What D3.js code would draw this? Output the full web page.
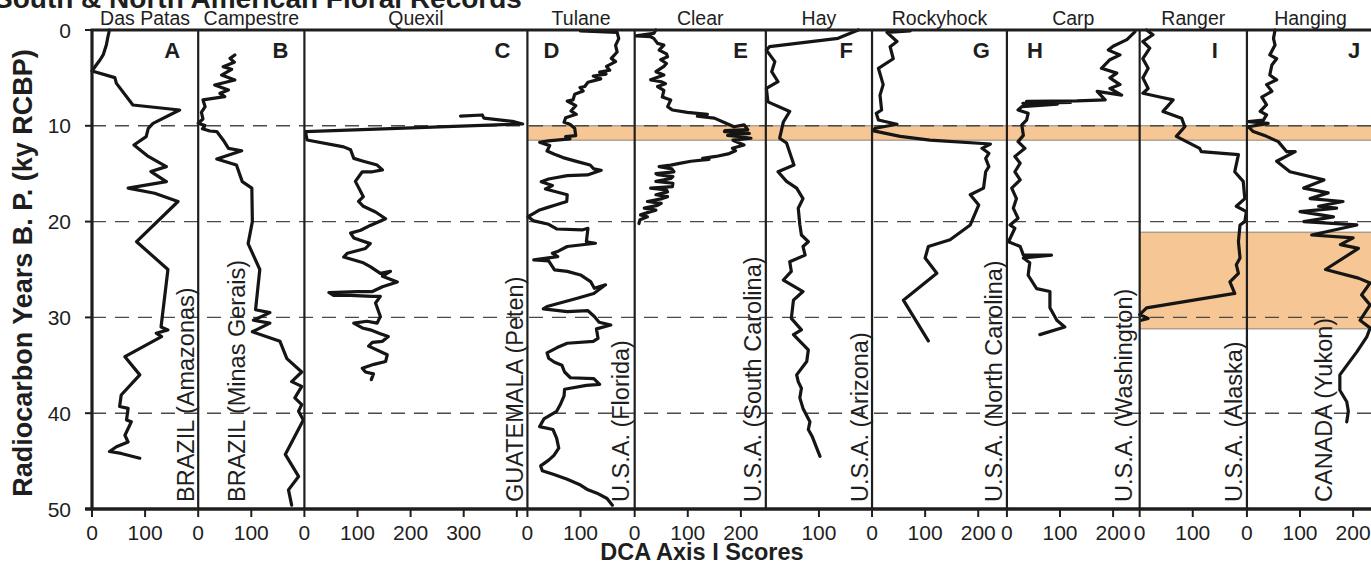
<!DOCTYPE html>
<html>
<head>
<meta charset="utf-8">
<script src="https://cdn.jsdelivr.net/npm/d3@7"></script>
<style>
  body { margin: 0; background: #fff; }
  text { font-family: "Liberation Sans", Arial, Helvetica, sans-serif; fill: #1e1e1e; }
</style>
</head>
<body>
<div id="chart"></div>
<script>
// ---- data ----
const siteNames = ["Das Patas", "Campestre", "Quexil", "Tulane", "Clear", "Hay", "Rockyhock", "Carp", "Ranger", "Hanging"];
const panelLetters = ["A", "B", "C", "D", "E", "F", "G", "H", "I", "J"];
const countryLabels = ["BRAZIL (Amazonas)", "BRAZIL (Minas Gerais)", "GUATEMALA (Peten)", "U.S.A. (Florida)",
  "U.S.A. (South Carolina)", "U.S.A. (Arizona)", "U.S.A. (North Carolina)", "U.S.A. (Washington)",
  "U.S.A. (Alaska)", "CANADA (Yukon)"];
// width of each panel in DCA score units
const panelSpan = [200, 200, 420, 202, 247, 200, 254, 250, 202, 240];
const reversedAxis = [false, false, false, false, false, true, false, false, false, false];
const tickValues = [[0, 100], [0, 100], [0, 100, 200, 300], [0, 100], [0, 100, 200], [0, 100], [100, 200], [0, 100, 200], [0, 100], [0, 100, 200]];
const unlabeledTicks = [[], [], [400], [], [], [], [], [], [], []];
const yTicks = [0, 10, 20, 30, 40, 50];
const dashedLevels = [10, 20, 30, 40];
// shaded intervals (ky), starting at panel index
const bandFrom = [10, 21.1];
const bandTo = [11.5, 31.2];
const bandFirstPanel = [3, 8];

// series: [ky RCBP, DCA score]
const dasPatas = [[0,33],[0.7,30],[1.57,27],[2.6,21],[3.13,15],[3.65,8],[4.28,0],[4.97,43],[5.57,46],[7.83,77],[8.35,165],[9.74,115],[10.26,106],[11.13,102],[12.0,79],[13.2,106],[14.26,140],[14.78,111],[15.83,140],[16.5,68],[17.04,118],[17.9,162],[22.1,84],[25.0,143],[31.0,130],[31.3,143],[31.65,121],[32.0,131],[34.1,62],[36.0,90],[38.1,55],[39.3,52],[39.5,68],[40.7,65],[40.9,74],[42.3,62],[43.0,68],[43.5,46],[44.0,33],[44.2,55],[44.7,90]];
const campestre = [[2.61,69],[2.96,60],[3.37,68],[3.83,47],[4.1,63],[4.7,44],[5.22,69],[5.74,31],[6.26,57],[6.61,41],[6.96,50],[7.3,9],[8.0,13],[8.59,6],[9.29,9],[9.74,0],[9.98,13],[10.3,8],[10.54,22],[10.6,35],[11.48,47],[12.35,57],[12.6,82],[13.46,35],[14.09,72],[15.83,83],[16.5,101],[20.0,102],[22.3,94],[25.0,116],[29.2,108],[29.5,135],[30.3,104],[30.6,135],[31.5,102],[32.5,154],[34.3,167],[35.7,195],[36.7,176],[37.2,195],[38.4,182],[39.1,195],[39.8,189],[40.7,198],[44.3,164],[46.6,189],[48.0,170],[49.6,176]];
const quexil = [[8.98,294],[8.87,335],[9.2,338],[9.57,395],[9.81,411],[10.6,2],[11.48,5],[12.2,74],[12.5,87],[13.4,93],[13.7,111],[14.1,137],[14.6,147],[14.8,128],[14.8,109],[15.8,96],[17.4,111],[17.9,102],[18.4,111],[19.0,134],[19.7,153],[20.4,124],[20.9,106],[21.2,87],[21.7,93],[22.3,124],[22.8,115],[23.3,81],[23.7,74],[24.3,111],[24.7,124],[25.4,143],[25.2,162],[25.7,147],[26.3,175],[26.8,147],[27.3,128],[27.3,99],[27.4,46],[27.7,55],[27.7,87],[27.8,128],[27.8,143],[28.5,134],[29.9,143],[30.6,137],[30.4,118],[30.6,93],[31.1,109],[31.3,124],[31.7,143],[32.0,158],[32.5,147],[32.6,128],[33.0,121],[33.9,156],[34.6,153],[34.9,131],[35.3,109],[35.7,115],[35.9,130],[36.5,126]];
const tulane = [[0.1,100],[0.24,169],[0.9,172],[1.6,166],[2.3,169],[2.96,158],[3.3,166],[3.8,149],[4.2,155],[4.4,136],[4.6,148],[4.8,124],[5.1,138],[5.46,114],[5.9,108],[6.0,99],[6.37,105],[6.71,89],[7.3,86],[7.41,75],[7.9,91],[8.45,82],[8.8,92],[9.15,72],[9.63,69],[9.84,80],[10.26,89],[11.03,91],[11.13,72],[11.37,80],[11.58,40],[11.72,23],[12.07,42],[12.63,37],[12.97,51],[13.32,67],[13.74,94],[14.09,118],[14.5,125],[14.64,139],[15.13,113],[15.2,75],[15.55,40],[15.83,26],[16.24,47],[16.6,34],[17.2,75],[17.9,74],[18.26,53],[18.54,37],[18.78,23],[19.13,12],[19.48,1],[19.93,12],[20.28,40],[20.77,55],[20.87,103],[20.7,114],[22.1,111],[22.26,128],[22.6,75],[23.06,59],[23.3,47],[23.65,57],[24.0,12],[24.1,40],[25.04,51],[25.2,75],[25.57,100],[26.26,119],[26.96,126],[26.6,147],[27.5,125],[28.0,94],[28.87,37],[29.11,30],[29.4,75],[29.3,114],[29.9,126],[30.5,135],[30.8,157],[31.2,130],[32.2,133],[32.5,124],[32.7,75],[33.15,56],[33.7,37],[34.26,40],[34.68,51],[35.0,65],[35.7,70],[36.3,81],[36.4,125],[37.0,136],[37.1,111],[37.5,70],[38.2,69],[39.1,62],[39.8,55],[40.6,31],[41.4,23],[41.7,48],[42.6,55],[43.65,59],[44.4,50],[44.9,40],[45.5,25],[46.0,28],[46.4,50],[46.9,75],[47.5,100],[48.0,114],[48.35,131],[48.9,150],[49.6,160]];
const clear = [[0,40],[0.35,36],[0.62,2],[0.7,30],[0.87,36],[1.4,43],[1.57,55],[2.1,46],[2.5,60],[2.8,62],[3.1,49],[3.5,60],[3.8,55],[4.35,40],[4.7,55],[5.2,30],[5.4,50],[5.6,58],[5.9,43],[6.3,55],[7.0,52],[7.3,68],[8.0,62],[8.35,71],[8.6,99],[8.8,137],[9.0,118],[9.2,150],[9.74,172],[10.1,187],[9.9,206],[10.4,213],[10.5,170],[10.6,169],[10.7,205],[10.8,216],[11.0,175],[11.1,194],[11.3,219],[11.5,185],[11.8,197],[12.0,206],[12.35,184],[12.6,190],[12.9,178],[13.2,153],[13.4,128],[13.5,140],[13.7,106],[13.9,87],[14.1,68],[14.26,46],[14.5,70],[14.8,74],[15.0,40],[15.1,43],[15.3,72],[15.5,68],[15.8,40],[16.0,72],[16.35,71],[16.5,30],[16.7,60],[16.9,62],[17.2,40],[17.4,62],[17.6,52],[17.9,24],[18.1,50],[18.3,43],[18.6,18],[18.8,40],[18.96,30],[19.3,11],[19.5,24],[19.8,10],[20.2,8]];
const hay = [[0,26],[0.87,64],[1.74,193],[2.1,199],[3.3,183],[4.35,189],[5.4,177],[6.1,199],[7.5,196],[8.5,155],[9.6,167],[11.3,174],[11.8,161],[14.1,147],[14.8,177],[15.8,161],[16.5,142],[17.6,130],[18.6,139],[20.3,136],[21.4,133],[22.1,120],[22.6,130],[23.5,126],[24.2,155],[25.2,152],[26.1,167],[27.3,130],[28.2,148],[30.1,152],[31.3,133],[31.8,148],[33.4,120],[34.6,123],[36.0,142],[36.7,139],[37.4,133],[38.4,136],[39.5,130],[40.9,117],[41.7,120],[42.4,113],[44.5,98]];
const rockyhock = [[0.1,72],[0.25,28],[1.2,47],[1.74,34],[3.0,40],[4.0,12],[5.7,21],[6.8,15],[8.35,18],[8.7,8],[9.4,12],[9.84,47],[10.26,6],[10.5,1],[11.1,53],[11.5,109],[11.9,223],[12.35,207],[12.87,220],[13.4,214],[14.26,220],[14.8,214],[16.5,210],[17.2,185],[18.26,201],[20.35,185],[21.9,147],[22.6,106],[23.8,100],[25.4,122],[28.2,59],[32.45,106]];
const carp = [[0.2,241],[1.0,226],[1.7,200],[2.1,191],[2.6,213],[3.1,194],[4.0,178],[4.5,207],[5.0,194],[5.7,213],[6.1,194],[6.8,216],[6.4,170],[7.3,185],[7.4,132],[7.45,37],[7.55,120],[7.65,30],[7.75,95],[8.0,28],[8.35,21],[8.7,40],[9.4,37],[9.9,28],[11.0,31],[11.65,21],[12.35,34],[13.2,15],[13.9,25],[14.8,15],[15.65,25],[16.5,9],[17.6,18],[18.6,12],[19.65,21],[20.35,6],[20.7,15],[22.1,3],[22.6,25],[23.5,31],[23.5,84],[23.8,31],[24.3,43],[25.6,40],[27.0,56],[27.3,81],[29.0,81],[30.3,94],[31.0,109],[31.8,62]];
const ranger = [[0,13],[0.5,25],[1.2,6],[1.9,19],[3.0,6],[4.0,16],[5.0,6],[6.1,16],[6.6,6],[7.0,38],[7.3,63],[8.5,44],[9.2,79],[10.1,85],[11.1,69],[12.35,113],[12.7,116],[13.0,186],[14.8,179],[15.8,195],[17.6,198],[18.4,182],[18.96,201],[20.0,198],[20.35,189],[22.1,186],[23.8,189],[24.5,182],[25.4,186],[26.3,170],[27.5,179],[29.0,13],[29.7,0],[30.1,16],[30.3,3]];
const hanging = [[0,53],[0.87,50],[1.57,53],[2.6,43],[3.0,56],[3.65,47],[4.7,43],[5.2,56],[5.7,37],[6.4,47],[7.0,28],[7.8,37],[8.5,25],[8.87,37],[9.4,31],[9.56,3],[9.74,40],[10.1,3],[10.6,12],[11.1,37],[11.65,59],[12.7,75],[12.7,91],[13.7,56],[14.8,81],[15.65,145],[16.5,107],[17.0,153],[17.6,119],[17.9,181],[18.4,135],[18.6,169],[18.96,100],[19.5,163],[20.0,107],[20.35,207],[21.4,122],[21.7,200],[22.4,176],[22.8,210],[25.0,148],[25.9,210],[26.4,232],[27.65,216],[28.7,232],[30.3,213],[31.1,232],[32.0,226],[33.6,207],[36.0,175],[37.6,175],[38.8,188],[39.8,191],[40.9,188]];
const allSeries = [dasPatas, campestre, quexil, tulane, clear, hay, rockyhock, carp, ranger, hanging];

// ---- layout ----
const W = 1371, H = 562;
const plotTop = 30, plotBottom = 509, plotLeft = 92;
const pxPerUnit = 0.531;
// letter placement: [anchor, inset from that side]
const letterPlace = [["end",18],["end",16],["end",17],["start",16],["end",18],["end",19],["end",17],["start",20],["end",29],["end",14]];
// country label baseline: [side, offset]
const labelPlace = [["r",-4.5],["l",47],["r",-4],["r",-6],["r",-5],["r",-4],["r",-5],["r",-8],["r",-5],["l",85]];

const svg = d3.select("#chart").append("svg")
    .attr("width", W)
    .attr("height", H);

const y = d3.scaleLinear().domain([0, 50]).range([plotTop, plotBottom]);

// build panels
let cursor = plotLeft;
const panels = siteNames.map((name, i) => {
    const w = panelSpan[i] * pxPerUnit;
    const p = {
        left: cursor,
        right: cursor + w,
        x: d3.scaleLinear().domain([0, panelSpan[i]])
            .range(reversedAxis[i] ? [cursor + w, cursor] : [cursor, cursor + w])
    };
    cursor += w;
    return p;
});

// shaded bands
bandFrom.forEach((b, i) => {
    svg.append("rect")
        .attr("x", panels[bandFirstPanel[i]].left)
        .attr("y", y(b))
        .attr("width", W - panels[bandFirstPanel[i]].left + 5)
        .attr("height", y(bandTo[i]) - y(b))
        .attr("fill", "#f6c794")
        .attr("stroke", "#7a7a7a")
        .attr("stroke-width", 0.9);
});

// dashed reference lines
svg.selectAll(".dash").data(dashedLevels).enter().append("line")
    .attr("x1", plotLeft).attr("x2", W)
    .attr("y1", d => y(d)).attr("y2", d => y(d))
    .attr("stroke", "#4a4a4a")
    .attr("stroke-width", 1.4)
    .attr("stroke-dasharray", "14,9");

// curves
const line = d3.line();
allSeries.forEach((s, i) => {
    const p = panels[i];
    svg.append("path")
        .datum(s)
        .attr("fill", "none")
        .attr("stroke", "#151515")
        .attr("stroke-width", 3.2)
        .attr("stroke-linejoin", "round")
        .attr("stroke-linecap", "round")
        .attr("d", line.x(d => p.x(d[1])).y(d => y(d[0])));
});

// panel dividers
panels.forEach((p, i) => {
    svg.append("line")
        .attr("x1", p.left).attr("x2", p.left)
        .attr("y1", plotTop).attr("y2", plotBottom)
        .attr("stroke", "#1e1e1e")
        .attr("stroke-width", i === 0 ? 3.2 : 2.2);
});

// top & bottom frame
svg.append("line").attr("x1", plotLeft - 1.5).attr("x2", W).attr("y1", plotTop).attr("y2", plotTop)
    .attr("stroke", "#1e1e1e").attr("stroke-width", 3.2);
svg.append("line").attr("x1", plotLeft - 7).attr("x2", W).attr("y1", plotBottom).attr("y2", plotBottom)
    .attr("stroke", "#1e1e1e").attr("stroke-width", 3.4);

// y axis ticks & labels
svg.selectAll(".ytick").data(yTicks).enter().append("line")
    .attr("x1", plotLeft - 7).attr("x2", plotLeft)
    .attr("y1", d => y(d)).attr("y2", d => y(d))
    .attr("stroke", "#1e1e1e").attr("stroke-width", 2);
svg.selectAll(".ylab").data(yTicks).enter().append("text")
    .attr("x", plotLeft - 21)
    .attr("y", d => y(d) + 7.5)
    .attr("text-anchor", "end")
    .attr("font-size", 21)
    .text(d => d);

// x ticks per panel
panels.forEach((p, i) => {
    const all = tickValues[i].concat(unlabeledTicks[i]);
    all.forEach(v => {
        svg.append("line")
            .attr("x1", p.x(v)).attr("x2", p.x(v))
            .attr("y1", plotBottom).attr("y2", plotBottom + 8)
            .attr("stroke", "#1e1e1e").attr("stroke-width", 2);
    });
    tickValues[i].forEach(v => {
        svg.append("text")
            .attr("x", p.x(v))
            .attr("y", plotBottom + 31)
            .attr("text-anchor", "middle")
            .attr("font-size", 21)
            .text(v);
    });

    // site name
    svg.append("text")
        .attr("x", (p.left + Math.min(p.right, W + 3)) / 2)
        .attr("y", 25)
        .attr("text-anchor", "middle")
        .attr("font-size", 19.5)
        .text(siteNames[i]);

    // panel letter
    const lp = letterPlace[i];
    svg.append("text")
        .attr("x", lp[0] === "end" ? p.right - lp[1] : p.left + lp[1])
        .attr("y", 58)
        .attr("text-anchor", lp[0])
        .attr("font-size", 22)
        .attr("font-weight", "bold")
        .text(panelLetters[i]);

    // country label, rotated
    const cp = labelPlace[i];
    const bx = cp[0] === "r" ? p.right + cp[1] : p.left + cp[1];
    svg.append("text")
        .attr("transform", `translate(${bx},502) rotate(-90)`)
        .attr("font-size", 23.5)
        .text(countryLabels[i]);
});

// titles
svg.append("text")
    .attr("x", -6).attr("y", 8)
    .attr("font-size", 28)
    .attr("font-weight", "bold")
    .text("South & North American Floral Records");

svg.append("text")
    .attr("transform", `translate(32,273) rotate(-90)`)
    .attr("text-anchor", "middle")
    .attr("font-size", 27)
    .attr("font-weight", "bold")
    .text("Radiocarbon Years B. P. (ky RCBP)");

svg.append("text")
    .attr("x", 702).attr("y", 560)
    .attr("text-anchor", "middle")
    .attr("font-size", 23.5)
    .attr("font-weight", "bold")
    .text("DCA Axis I Scores");
</script>
</body>
</html>
